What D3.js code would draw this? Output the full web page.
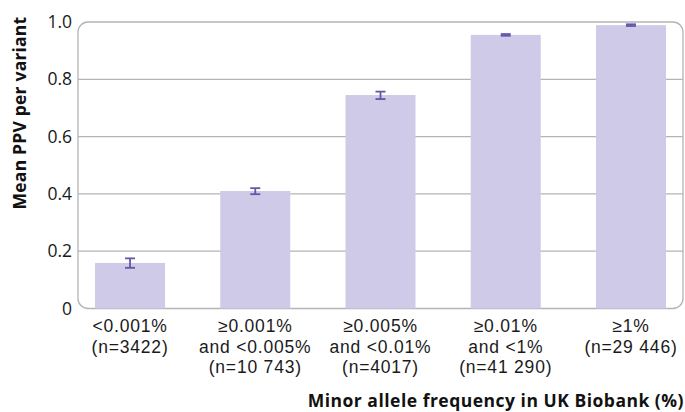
<!DOCTYPE html>
<html><head><meta charset="utf-8">
<script src="https://cdn.jsdelivr.net/npm/d3@7"></script>
<style>body{margin:0;background:#fff;} svg{display:block;font-family:"Open Sans",sans-serif;}</style>
</head><body>
<svg id="c" width="685" height="412"></svg>
<script>
const categories = [
  ["<0.001%", "(n=3422)"],
  ["\u22650.001%", "and <0.005%", "(n=10 743)"],
  ["\u22650.005%", "and <0.01%", "(n=4017)"],
  ["\u22650.01%", "and <1%", "(n=41 290)"],
  ["\u22651%", "(n=29 446)"]
];
const meanPPV = [0.159, 0.410, 0.745, 0.955, 0.989];
const errLow  = [0.142, 0.399, 0.731, 0.952, 0.986];
const errHigh = [0.175, 0.420, 0.757, 0.958, 0.992];
const yTicks = [0, 0.2, 0.4, 0.6, 0.8, 1.0];
const yTickLabels = ["0", "0.2", "0.4", "0.6", "0.8", "1.0"];

const svg = d3.select("#c");
const L = 78, R = 683, T = 22, B = 308.5;
const x = d3.scaleBand().domain(d3.range(categories.length)).range([L, R]).paddingInner(0.441).paddingOuter(0.136);
const y = d3.scaleLinear().domain([0, 1]).range([B, T]);

// gridlines
svg.append("g").selectAll("line").data(yTicks.filter(t => t > 0 && t < 1)).join("line")
  .attr("x1", L).attr("x2", R).attr("y1", d => y(d)).attr("y2", d => y(d))
  .attr("stroke", "#b4b4b4").attr("stroke-width", 1.3);

// frame
svg.append("rect").attr("x", L).attr("y", T).attr("width", R - L).attr("height", B - T)
  .attr("rx", 10).attr("fill", "none").attr("stroke", "#b4b4b4").attr("stroke-width", 1.3);

// bars
svg.append("g").selectAll("rect").data(meanPPV).join("rect")
  .attr("x", (d, i) => x(i)).attr("width", x.bandwidth())
  .attr("y", d => y(d)).attr("height", d => y(0) - y(d))
  .attr("fill", "#cecae7");

// error bars
const eg = svg.append("g").attr("stroke", "#6656a8").attr("stroke-width", 1.8);
meanPPV.forEach((v, i) => {
  const cx = x(i) + x.bandwidth() / 2;
  eg.append("line").attr("x1", cx).attr("x2", cx).attr("y1", y(errLow[i])).attr("y2", y(errHigh[i]));
  eg.append("line").attr("x1", cx - 5).attr("x2", cx + 5).attr("y1", y(errLow[i])).attr("y2", y(errLow[i]));
  eg.append("line").attr("x1", cx - 5).attr("x2", cx + 5).attr("y1", y(errHigh[i])).attr("y2", y(errHigh[i]));
});

// y axis
const yAxis = d3.axisLeft(y).tickValues(yTicks).tickFormat((d, i) => yTickLabels[i]).tickSize(0).tickPadding(6);
const ya = svg.append("g").attr("transform", `translate(${L},0)`).call(yAxis);
ya.select(".domain").remove();
ya.selectAll("text").attr("font-size", 17.5).attr("fill", "#1a1a1a").attr("font-family", "'Open Sans',sans-serif");

// x axis labels
const xAxis = d3.axisBottom(x).tickSize(0).tickFormat("");
const xa = svg.append("g").attr("transform", `translate(0,${B})`).call(xAxis);
xa.select(".domain").remove();
xa.selectAll(".tick").each(function(d) {
  const t = d3.select(this).append("text").attr("text-anchor", "middle")
    .attr("font-size", 17.5).attr("letter-spacing", 0.8).attr("fill", "#1a1a1a");
  categories[d].forEach((line, j) => {
    t.append("tspan").attr("x", 0).attr("y", 23.5 + j * 20.5).text(line);
  });
});

// titles
svg.append("text").attr("transform", "translate(26,113) rotate(-90)")
  .attr("text-anchor", "middle").attr("font-weight", "bold").attr("font-size", 17.5)
  .attr("letter-spacing", 0.2).attr("fill", "#111")
  .text("Mean PPV per variant");
svg.append("text").attr("x", 684).attr("y", 407).attr("text-anchor", "end")
  .attr("font-weight", "bold").attr("font-size", 17.5).attr("letter-spacing", 0.5).attr("fill", "#111")
  .text("Minor allele frequency in UK Biobank (%)");
</script>
</body></html>
